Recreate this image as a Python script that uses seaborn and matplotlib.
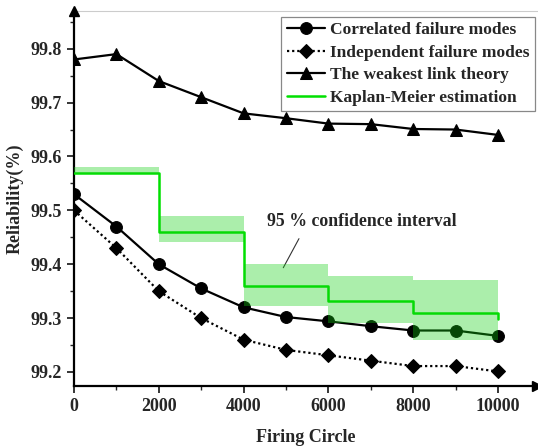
import numpy as np
import pandas as pd
import matplotlib
matplotlib.use("Agg")
import matplotlib.pyplot as plt
import seaborn as sns

# ---- data ----
firing = [0, 1000, 2000, 3000, 4000, 5000, 6000, 7000, 8000, 9000, 10000]
correlated = [99.53, 99.47, 99.40, 99.355, 99.32, 99.302, 99.294, 99.285, 99.277, 99.277, 99.267]
independent = [99.50, 99.43, 99.35, 99.30, 99.26, 99.241, 99.231, 99.221, 99.211, 99.211, 99.201]
weakest = [99.78, 99.79, 99.74, 99.71, 99.68, 99.671, 99.661, 99.66, 99.651, 99.65, 99.64]

km_x = [0, 2000, 4000, 6000, 8000, 10000]
km_y = [99.57, 99.46, 99.36, 99.332, 99.309, 99.298]
ci_low = [99.567, 99.442, 99.322, 99.291, 99.26, 99.26]
ci_high = [99.581, 99.489, 99.40, 99.378, 99.37, 99.37]

xticks = [0, 2000, 4000, 6000, 8000, 10000]
yticks = [99.2, 99.3, 99.4, 99.5, 99.6, 99.7, 99.8]

sns.set_style("ticks")
plt.rcParams["font.family"] = ["Liberation Serif", "DejaVu Serif"]
plt.rcParams["font.weight"] = "bold"
plt.rcParams["axes.labelweight"] = "bold"

fig = plt.figure(figsize=(5.38, 4.46), dpi=100)
ax = fig.add_axes([74 / 538, 1 - 386 / 446, (537 - 74) / 538, (386 - 11) / 446])

ms = 8.5
sns.lineplot(x=firing, y=correlated, ax=ax, color="black", lw=1.6, marker="o",
             markersize=ms, markeredgecolor="black", label="Correlated failure modes", zorder=3)
sns.lineplot(x=firing, y=independent, ax=ax, color="black", lw=1.6, linestyle=(0, (1, 1.3)),
             marker="D", markersize=ms - 1.5, markeredgecolor="black",
             label="Independent failure modes", zorder=3)
sns.lineplot(x=firing, y=weakest, ax=ax, color="black", lw=1.6, marker="^",
             markersize=ms + 0.5, markeredgecolor="black", label="The weakest link theory", zorder=3)
sns.lineplot(x=km_x, y=km_y, ax=ax, color="#00e000", lw=1.8, drawstyle="steps-post",
             label="Kaplan-Meier estimation", zorder=4)
ax.fill_between(km_x, ci_low, ci_high, step="post", color="#10d010", alpha=0.35,
                lw=0, zorder=5)

ax.set_xlim(0, 10920)
ax.set_ylim(99.174, 99.870)
ax.set_xticks(xticks)
ax.set_xticklabels([str(v) for v in xticks])
ax.set_yticks(yticks)
ax.set_yticklabels([f"{v:.1f}" for v in yticks])
ax.set_xticks(np.arange(1000, 10001, 2000), minor=True)
ax.set_yticks(np.arange(99.25, 99.86, 0.1), minor=True)
ax.tick_params(axis="both", which="major", length=5, width=1.3, labelsize=13, direction="out")
ax.tick_params(axis="both", which="minor", length=3, width=1.0, direction="out")

ax.set_xlabel("Firing Circle", fontsize=13, fontweight="bold", labelpad=10)
ax.set_ylabel("Reliability(%)", fontsize=13, fontweight="bold", labelpad=5)

for s in ["left", "bottom"]:
    ax.spines[s].set_linewidth(1.6)
    ax.spines[s].set_color("black")
ax.spines["top"].set_visible(True)
ax.spines["top"].set_color("#cccccc")
ax.spines["top"].set_linewidth(0.8)
ax.spines["right"].set_visible(False)

# axis arrows
ax.plot(0, 1, marker="^", transform=ax.transAxes, clip_on=False, color="black",
        markersize=7.5, zorder=6)
ax.plot(1, 0, marker=">", transform=ax.transAxes, clip_on=False, color="black",
        markersize=7.5, zorder=6)

# annotation
ax.annotate("", xy=(4905, 99.389), xytext=(5337, 99.452),
            arrowprops=dict(arrowstyle="-", color="#333333", lw=0.8))
ax.text(6793, 99.480, "95 % confidence interval", ha="center", va="center",
        fontsize=12.8, fontweight="bold")

leg = ax.legend(loc="upper right", bbox_to_anchor=(0.995, 0.985), fontsize=12.5,
                frameon=True, fancybox=False, edgecolor="#888888", framealpha=1,
                handlelength=2.2, handletextpad=0.3, labelspacing=0.38,
                borderpad=0.3, borderaxespad=0.0)
leg.get_frame().set_linewidth(0.9)

fig.savefig("out.png", dpi=100)
